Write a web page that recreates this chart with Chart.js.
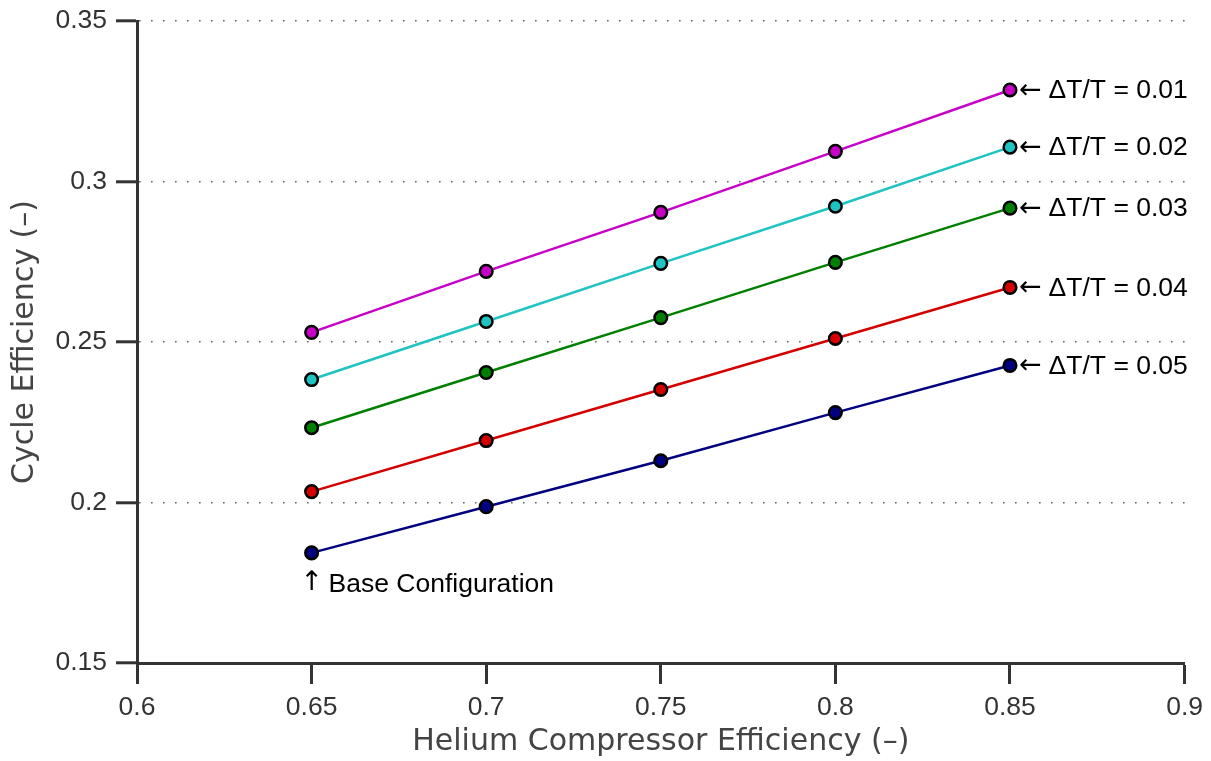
<!DOCTYPE html>
<html>
<head>
<meta charset="utf-8">
<script src="https://cdn.jsdelivr.net/npm/chart.js@4/dist/chart.umd.min.js"></script>
<style>
  html, body { margin: 0; padding: 0; background: #fff; }
  #wrap { width: 1211px; height: 761px; }
</style>
</head>
<body>
<div id="wrap"><canvas id="chart" width="1211" height="761"></canvas></div>
<script>
// compressor efficiency values on the x axis
const compressorEff = [0.65, 0.7, 0.75, 0.8, 0.85];

// cycle efficiency for each pressure-drop ratio
const dT001 = [0.2530, 0.2720, 0.2904, 0.3094, 0.3285];
const dT002 = [0.2383, 0.2564, 0.2745, 0.2923, 0.3107];
const dT003 = [0.2233, 0.2405, 0.2576, 0.2748, 0.2917];
const dT004 = [0.2034, 0.2193, 0.2352, 0.2511, 0.2670];
const dT005 = [0.1843, 0.1987, 0.2130, 0.2280, 0.2427];

const seriesLabels = ['ΔT/T = 0.01', 'ΔT/T = 0.02', 'ΔT/T = 0.03', 'ΔT/T = 0.04', 'ΔT/T = 0.05'];
const baseLabel = 'Base Configuration';

const xTicks = [0.6, 0.65, 0.7, 0.75, 0.8, 0.85, 0.9];
const xTickLabels = ['0.6', '0.65', '0.7', '0.75', '0.8', '0.85', '0.9'];
const yTicks = [0.15, 0.2, 0.25, 0.3, 0.35];
const yTickLabels = ['0.15', '0.2', '0.25', '0.3', '0.35'];

const colors = ['#c800c8', '#1ec3c3', '#008000', '#d40000', '#000080'];
const allSeries = [dT001, dT002, dT003, dT004, dT005];

const datasets = allSeries.map((vals, i) => ({
  label: seriesLabels[i],
  data: vals.map((v, j) => ({ x: compressorEff[j], y: v })),
  borderColor: colors[i],
  backgroundColor: colors[i],
  borderWidth: 2.5,
  pointRadius: 6.3,
  pointBorderColor: '#000',
  pointBorderWidth: 2.5,
  pointBackgroundColor: colors[i],
  showLine: true,
  tension: 0
}));

const noteFont = '26.5px "Liberation Sans", Arial, sans-serif';
const arrowFont = '27px "DejaVu Sans", sans-serif';

// draws the "← ΔT/T" notes and the base configuration note next to the points
const notesPlugin = {
  id: 'notes',
  afterDatasetsDraw(chart) {
    const ctx = chart.ctx;
    ctx.save();
    ctx.fillStyle = '#000';
    ctx.textAlign = 'left';
    ctx.textBaseline = 'middle';
    chart.data.datasets.forEach((ds, i) => {
      const pts = chart.getDatasetMeta(i).data;
      const p = pts[pts.length - 1];
      ctx.font = arrowFont;
      ctx.fillText('\u2190', p.x + 9, p.y + 1);
      const w = ctx.measureText('\u2190').width;
      ctx.font = noteFont;
      ctx.fillText(ds.label, p.x + 9 + w + 7, p.y + 1);
    });
    const base = chart.getDatasetMeta(4).data[0];
    ctx.font = arrowFont;
    ctx.fillText('\u2191', base.x - 11, base.y + 30);
    ctx.font = noteFont;
    ctx.fillText(baseLabel, base.x + 17, base.y + 32);
    ctx.restore();
  }
};

new Chart(document.getElementById('chart'), {
  type: 'scatter',
  data: { datasets },
  options: {
    responsive: false,
    animation: false,
    layout: { padding: { top: 21, right: 26, left: 0, bottom: 0 } },
    plugins: { legend: { display: false }, tooltip: { enabled: false } },
    scales: {
      x: {
        type: 'linear',
        min: 0.6,
        max: 0.9,
        afterBuildTicks: s => { s.ticks = xTicks.map(v => ({ value: v })); },
        afterFit: s => { s.height = 98; },
        ticks: {
          callback: (v, i) => xTickLabels[i],
          color: '#333',
          font: { family: '"Liberation Sans", Arial, sans-serif', size: 26.5 },
          padding: 8,
          maxRotation: 0
        },
        grid: {
          drawOnChartArea: false,
          drawTicks: true,
          tickLength: 21,
          tickColor: '#333',
          tickWidth: 3
        },
        border: { display: true, color: '#333', width: 3 },
        title: {
          display: true,
          text: 'Helium Compressor Efficiency (–)',
          color: '#444',
          font: { family: '"DejaVu Sans", sans-serif', size: 30 },
          padding: { top: 0, bottom: 1 }
        }
      },
      y: {
        type: 'linear',
        min: 0.15,
        max: 0.35,
        afterBuildTicks: s => { s.ticks = yTicks.map(v => ({ value: v })); },
        afterFit: s => { s.width = 137; s.paddingTop = 0; s.paddingBottom = 0; },
        ticks: {
          callback: (v, i) => yTickLabels[i],
          color: '#333',
          font: { family: '"Liberation Sans", Arial, sans-serif', size: 26.5 },
          padding: 9
        },
        grid: {
          drawOnChartArea: true,
          drawTicks: true,
          tickLength: 21,
          color: '#666',
          lineWidth: 1.6,
          tickColor: '#333',
          tickWidth: 3,
          tickBorderDash: []
        },
        border: { display: true, color: '#333', width: 3, dash: [1.6, 10.4] },
        title: {
          display: true,
          text: 'Cycle Efficiency (–)',
          color: '#444',
          font: { family: '"DejaVu Sans", sans-serif', size: 30 },
          padding: { top: 7, bottom: 0 }
        }
      }
    }
  },
  plugins: [notesPlugin]
});
</script>
</body>
</html>
